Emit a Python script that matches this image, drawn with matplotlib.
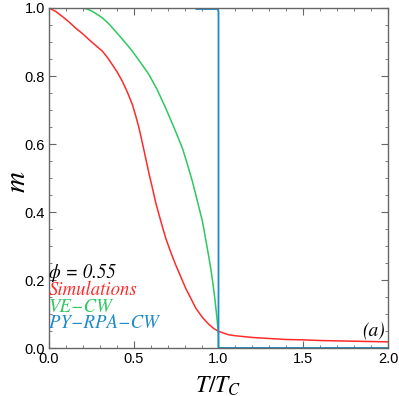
import matplotlib
matplotlib.use("Agg")
import matplotlib.pyplot as plt
from matplotlib.ticker import MultipleLocator

plt.rcParams["mathtext.fontset"] = "stix"

# Simulations (red)
sim_T = [0.0, 0.039, 0.079, 0.118, 0.157, 0.197, 0.236, 0.275, 0.315, 0.344, 0.374, 0.403,
         0.433, 0.462, 0.492, 0.511, 0.531, 0.551, 0.570, 0.590, 0.610, 0.629, 0.649, 0.669,
         0.688, 0.718, 0.747, 0.777, 0.806, 0.836, 0.865, 0.905, 0.944, 0.973, 1.0, 1.06,
         1.1, 1.2, 1.3, 1.4, 1.5, 1.6, 1.7, 1.8, 1.9, 2.0]
sim_m = [1.0, 0.990, 0.975, 0.959, 0.941, 0.925, 0.907, 0.890, 0.873, 0.855, 0.833, 0.811,
         0.784, 0.753, 0.716, 0.684, 0.647, 0.603, 0.559, 0.513, 0.471, 0.429, 0.392, 0.357,
         0.324, 0.282, 0.245, 0.210, 0.176, 0.147, 0.118, 0.090, 0.069, 0.057, 0.049, 0.039,
         0.036, 0.031, 0.028, 0.025, 0.024, 0.022, 0.021, 0.020, 0.019, 0.018]

# VE-CW (green)
ve_T = [0.0, 0.197, 0.226, 0.256, 0.285, 0.315, 0.354, 0.393, 0.442, 0.492, 0.541, 0.590,
        0.639, 0.688, 0.737, 0.787, 0.816, 0.846, 0.875, 0.905, 0.924, 0.944, 0.960, 0.973,
        0.983, 0.993, 0.999, 1.0, 2.0]
ve_m = [1.0, 1.0, 0.997, 0.990, 0.981, 0.971, 0.953, 0.931, 0.903, 0.873, 0.839, 0.804,
        0.759, 0.706, 0.649, 0.588, 0.541, 0.490, 0.433, 0.373, 0.321, 0.265, 0.216, 0.167,
        0.125, 0.078, 0.044, 0.0, 0.0]

# PY-RPA-CW (blue)
py_T = [0.87, 0.95, 0.995, 1.0, 1.0, 2.0]
py_m = [0.997, 0.997, 0.997, 0.99, 0.0, 0.0]

RED = "#FF2B2B"
GREEN = "#2DC860"
BLUE = "#1E8CCB"
FRAME = "#666666"

fig = plt.figure(figsize=(3.99, 3.96), dpi=100)
ax = fig.add_axes([0.1228, 0.1212, 0.8496, 0.8586])

ax.plot(sim_T, sim_m, color=RED, lw=1.1)
ax.plot(ve_T, ve_m, color=GREEN, lw=1.1)
ax.plot(py_T, py_m, color=BLUE, lw=1.3)

ax.set_xlim(0, 2)
ax.set_ylim(0, 1)
ax.xaxis.set_major_locator(MultipleLocator(0.5))
ax.xaxis.set_minor_locator(MultipleLocator(0.1))
ax.yaxis.set_major_locator(MultipleLocator(0.2))
ax.yaxis.set_minor_locator(MultipleLocator(0.05))
ax.tick_params(which="both", direction="in", top=True, right=True, color=FRAME,
               labelsize=10.5, pad=3)
ax.tick_params(which="major", length=5, width=0.8)
ax.tick_params(which="minor", length=2.5, width=0.6)
for lab in ax.get_xticklabels() + ax.get_yticklabels():
    lab.set_fontfamily("Liberation Sans")
for s in ax.spines.values():
    s.set_color(FRAME)
    s.set_linewidth(1.0)

ax.set_xlabel(r"$T/T_C$", fontsize=17)
ax.xaxis.set_label_coords(0.5, -0.075)
ax.set_ylabel(r"$m$", fontsize=21)
ax.yaxis.set_label_coords(-0.052, 0.49)

tkw = dict(fontfamily="STIXGeneral", style="italic", fontsize=13.5,
           transform=ax.transAxes, ha="left", va="baseline")
ax.text(0.0, 0.206, "\u03d5 = 0.55", color="black", **tkw)
ax.text(0.0, 0.156, "Simulations", color=RED, **tkw)
ax.text(0.0, 0.106, "VE\u2212CW", color=GREEN, **tkw)
ax.text(0.0, 0.058, "PY\u2212RPA\u2212CW", color=BLUE, **tkw)
ax.text(0.99, 0.033, "(a)", color="black", fontfamily="STIXGeneral", style="italic",
        fontsize=14, transform=ax.transAxes, ha="right", va="baseline")

fig.savefig("out.png", dpi=100)
